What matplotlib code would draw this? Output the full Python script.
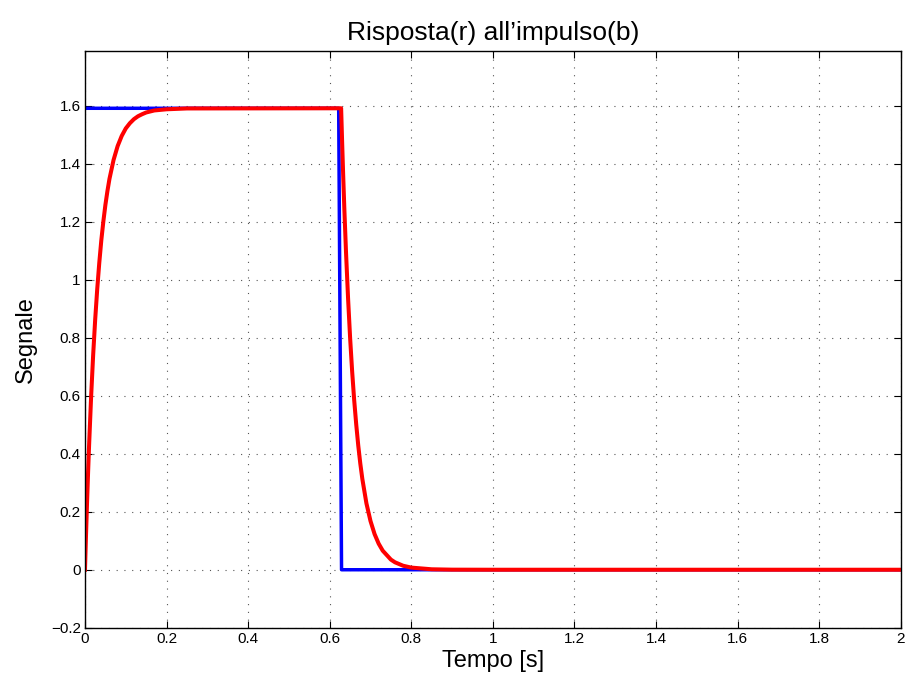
import numpy as np
import matplotlib.pyplot as plt

plt.rcParams['font.family'] = ['Liberation Sans', 'DejaVu Sans']

# impulse (blue)
t_imp = [0.0, 0.622, 0.629, 2.0]
y_imp = [1.5915, 1.5915, 0.0, 0.0]

# response (red)
t_resp = [0.0, 0.0025, 0.005, 0.0075, 0.01, 0.015, 0.02, 0.025, 0.03, 0.035,
          0.04, 0.045, 0.05, 0.055, 0.06, 0.07, 0.08, 0.09, 0.10, 0.11,
          0.12, 0.13, 0.14, 0.15, 0.17, 0.20, 0.25, 0.30, 0.628,
          0.6305, 0.633, 0.636, 0.64, 0.645, 0.65, 0.655, 0.66, 0.665, 0.67,
          0.675, 0.68, 0.69, 0.70, 0.71, 0.72, 0.73, 0.75, 0.76, 0.78,
          0.80, 0.85, 0.90, 1.0, 2.0]
y_resp = [0.0, 0.119, 0.230, 0.332, 0.427, 0.596, 0.740, 0.863, 0.968, 1.058,
          1.136, 1.201, 1.258, 1.306, 1.348, 1.413, 1.461, 1.496, 1.522, 1.540,
          1.554, 1.564, 1.571, 1.577, 1.584, 1.588, 1.5909, 1.591, 1.5915,
          1.472, 1.361, 1.239, 1.094, 0.936, 0.800, 0.684, 0.585, 0.501, 0.428,
          0.366, 0.313, 0.229, 0.168, 0.123, 0.090, 0.0657, 0.035, 0.0257, 0.0138,
          0.0074, 0.0016, 0.0003, 0.0, 0.0]

xticks = np.arange(0, 2.01, 0.2)
yticks = np.arange(-0.2, 1.61, 0.2)

fig = plt.figure(figsize=(9.08, 6.79), dpi=100)
ax = fig.add_axes([0.0936, 0.0755, 0.8984, 0.8498])

ax.plot(t_imp, y_imp, color='blue', lw=2.5)
ax.plot(t_resp, y_resp, color='red', lw=2.9, solid_joinstyle='round')

ax.set_xlim(0, 2)
ax.set_ylim(-0.2, 1.79)
ax.set_xticks(xticks)
ax.set_yticks(yticks)
ax.set_xticklabels(['0', '0.2', '0.4', '0.6', '0.8', '1', '1.2', '1.4', '1.6', '1.8', '2'])
ax.set_yticklabels(['\u22120.2', '0', '0.2', '0.4', '0.6', '0.8', '1', '1.2', '1.4', '1.6'])
ax.tick_params(direction='in', top=True, right=True, length=5, labelsize=11, pad=3)
ax.grid(True, linestyle=(0, (1, 6)), color='#555555', lw=0.8)
for s in ax.spines.values():
    s.set_linewidth(1.0)

ax.set_title('Risposta(r) all\u2019impulso(b)', fontsize=19, pad=8)
ax.set_xlabel('Tempo [s]', fontsize=17, labelpad=3)
ax.set_ylabel('Segnale', fontsize=17, labelpad=10)

fig.savefig('out.png', dpi=100)
